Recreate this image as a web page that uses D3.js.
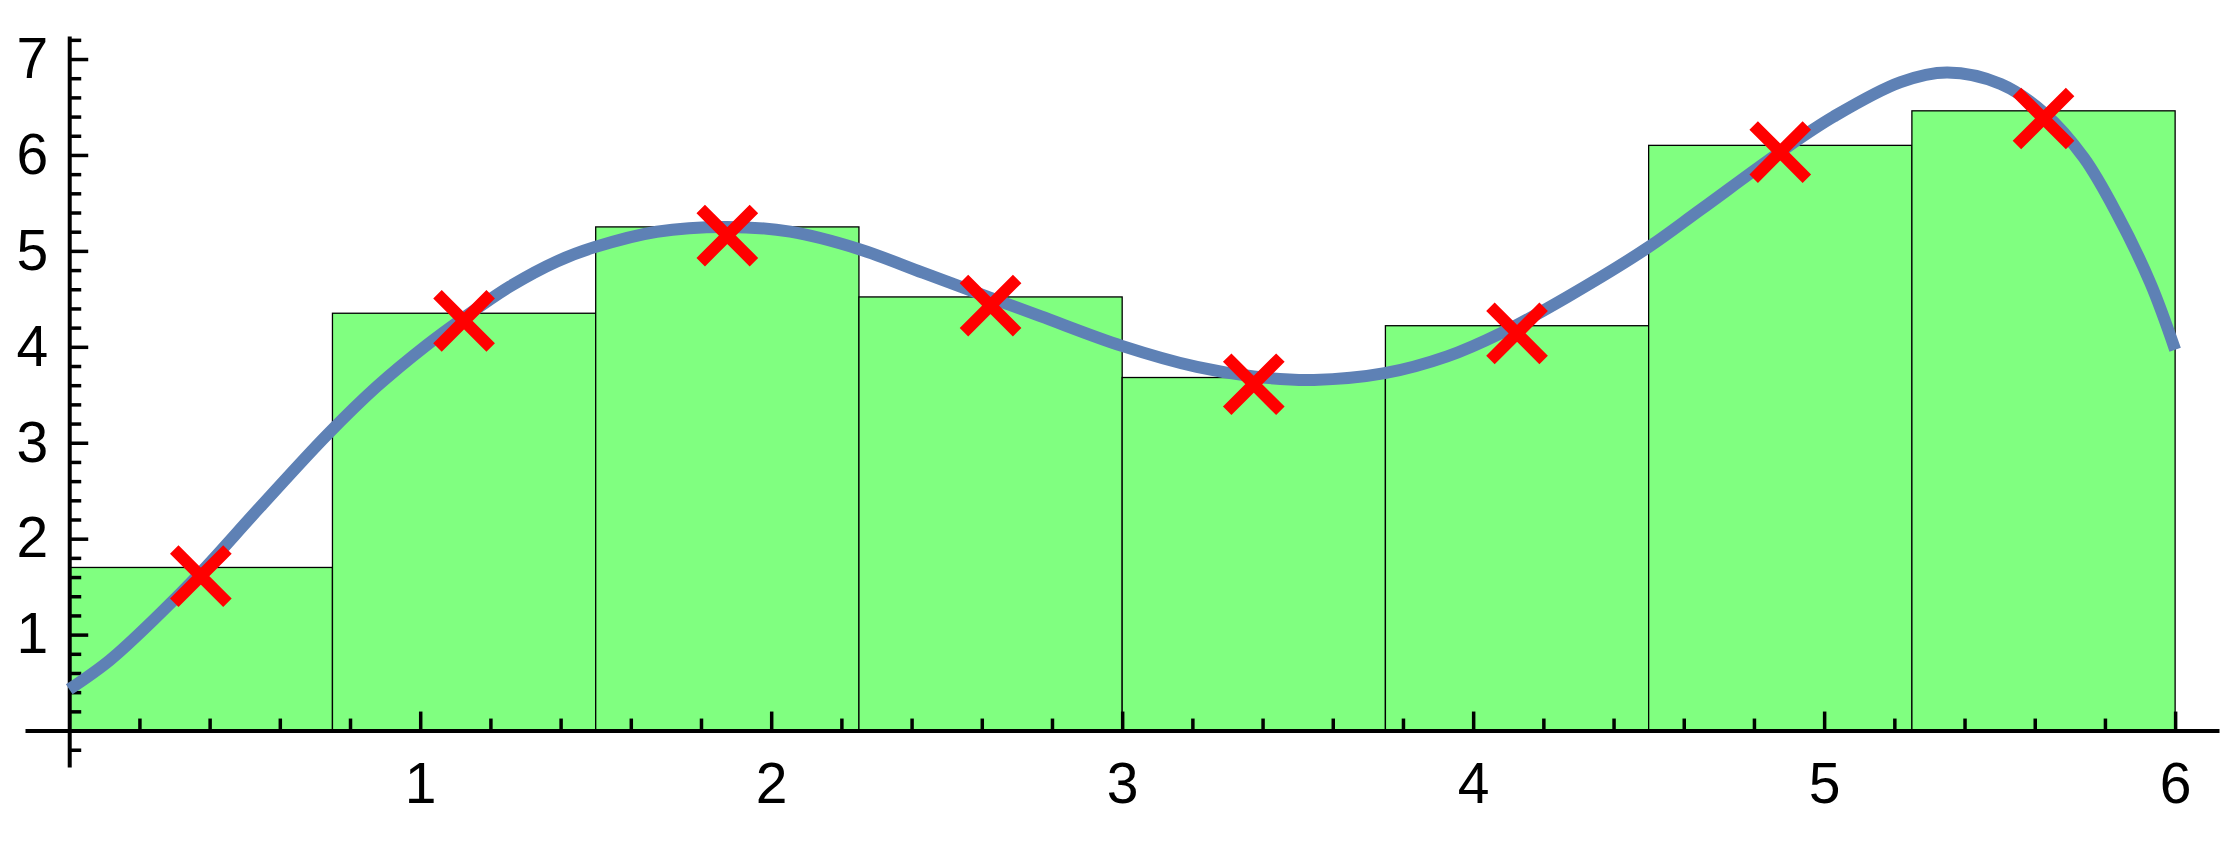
<!DOCTYPE html>
<html>
<head>
<meta charset="utf-8">
<script src="https://cdn.jsdelivr.net/npm/d3@7"></script>
<style>
  html, body { margin: 0; padding: 0; background: #fff; }
  svg { display: block; }
</style>
</head>
<body>
<svg id="chart" width="2239" height="864"></svg>
<script>
// ---------------- data ----------------
// histogram-like bars: each bar spans [binStart, binEnd]
const binStarts = [0, 0.75, 1.5, 2.25, 3.0, 3.75, 4.5, 5.25];
const binEnds   = [0.75, 1.5, 2.25, 3.0, 3.75, 4.5, 5.25, 6.0];
const barValues = [1.70, 4.35, 5.25, 4.52, 3.68, 4.22, 6.10, 6.46];

// red cross markers
const pointX = [0.375, 1.125, 1.875, 2.625, 3.375, 4.125, 4.875, 5.625];
const pointY = [1.61, 4.27, 5.16, 4.43, 3.61, 4.14, 6.03, 6.38];

// smooth blue curve
const curveX = [0, 0.116, 0.259, 0.373, 0.544, 0.734, 0.876, 1.019, 1.123, 1.256, 1.389, 1.498, 1.674, 1.874, 2.054, 2.249, 2.434, 2.625, 2.767, 2.999, 3.213, 3.375, 3.546, 3.748, 3.926, 4.078, 4.268, 4.5, 4.648, 4.876, 5.027, 5.218, 5.351, 5.503, 5.626, 5.74, 5.835, 5.93, 6.0];
const curveY = [0.43, 0.735, 1.22, 1.64, 2.33, 3.08, 3.585, 4.02, 4.30, 4.63, 4.89, 5.04, 5.20, 5.25, 5.20, 5.02, 4.77, 4.51, 4.32, 4.01, 3.79, 3.69, 3.655, 3.725, 3.90, 4.14, 4.52, 5.04, 5.43, 6.035, 6.40, 6.76, 6.86, 6.74, 6.44, 5.97, 5.38, 4.66, 3.97];

// ticks
const xTickLabels = [1, 2, 3, 4, 5, 6];
const yTickLabels = [1, 2, 3, 4, 5, 6, 7];
const xMinorTicks = d3.range(1, 31).map(i => i / 5).filter(v => !Number.isInteger(v));
const yMinorTicks = d3.range(-1, 37).map(i => i / 5).filter(v => !Number.isInteger(v));

// axis extents (data units)
const xExtent = [-0.126, 6.125];
const yExtent = [-0.38, 7.24];

// ---------------- drawing ----------------
const svg = d3.select("#chart");
svg.append("rect").attr("width", 2239).attr("height", 864).attr("fill", "#fff");

const x = d3.scaleLinear().domain(xExtent).range([25, 2219]);
const y = d3.scaleLinear().domain(yExtent).range([767, 36]);

const FONT = "'Liberation Sans', Arial, sans-serif";

// bars
svg.append("g").selectAll("rect")
  .data(barValues)
  .join("rect")
  .attr("x", (d, i) => x(binStarts[i]))
  .attr("width", (d, i) => x(binEnds[i]) - x(binStarts[i]))
  .attr("y", d => y(d))
  .attr("height", d => y(0) - y(d))
  .attr("fill", "#80FF80")
  .attr("stroke", "#000")
  .attr("stroke-width", 1.3);

// axes
function styleAxis(g, width) {
  g.attr("font-family", null).attr("font-size", null);
  g.select(".domain").attr("stroke", "#000").attr("stroke-width", 4);
  g.selectAll(".tick line").attr("stroke", "#000").attr("stroke-width", width);
  g.selectAll(".tick text").attr("fill", "#000").style("font-family", FONT).style("font-size", "57px");
}

// x axis minor
const gxMinor = svg.append("g").attr("transform", `translate(0,${y(0)})`)
  .call(d3.axisBottom(x).tickValues(xMinorTicks).tickSizeInner(-12).tickSizeOuter(0).tickFormat(""));
styleAxis(gxMinor, 3.5);
gxMinor.select(".domain").remove();

// x axis major
const gx = svg.append("g").attr("transform", `translate(0,${y(0)})`)
  .call(d3.axisBottom(x).tickValues(xTickLabels).tickSizeInner(-19).tickSizeOuter(0).tickPadding(32).tickFormat(d3.format("d")));
styleAxis(gx, 3.5);

// y axis minor
const gyMinor = svg.append("g").attr("transform", `translate(${x(0)},0)`)
  .call(d3.axisLeft(y).tickValues(yMinorTicks).tickSizeInner(-12).tickSizeOuter(0).tickFormat(""));
styleAxis(gyMinor, 3.5);
gyMinor.select(".domain").remove();

// y axis major
const gy = svg.append("g").attr("transform", `translate(${x(0)},0)`)
  .call(d3.axisLeft(y).tickValues(yTickLabels).tickSizeInner(-19).tickSizeOuter(0).tickPadding(21).tickFormat(d3.format("d")));
styleAxis(gy, 3.5);

// curve
const line = d3.line()
  .x((d, i) => x(curveX[i]))
  .y(d => y(d))
  .curve(d3.curveCatmullRom.alpha(0.5));
svg.append("path")
  .attr("d", line(curveY))
  .attr("fill", "none")
  .attr("stroke", "#5E81B5")
  .attr("stroke-width", 12)
  .attr("stroke-linecap", "butt")
  .attr("stroke-linejoin", "round");

// cross markers
const a = 26.6;
svg.append("g").selectAll("path")
  .data(pointY)
  .join("path")
  .attr("transform", (d, i) => `translate(${x(pointX[i])},${y(d)})`)
  .attr("d", `M${-a},${-a}L${a},${a}M${-a},${a}L${a},${-a}`)
  .attr("fill", "none")
  .attr("stroke", "#FF0000")
  .attr("stroke-width", 12)
  .attr("stroke-linecap", "butt");
</script>
</body>
</html>
